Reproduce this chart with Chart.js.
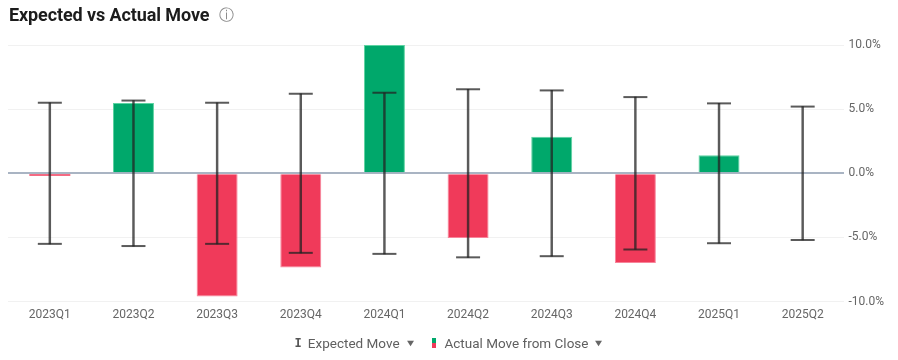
<!DOCTYPE html>
<html>
<head>
<meta charset="utf-8">
<script src="https://cdn.jsdelivr.net/npm/chart.js@4/dist/chart.umd.min.js"></script>
<style>
  html, body { margin: 0; padding: 0; background: #fff; }
  body { width: 898px; height: 360px; position: relative; overflow: hidden; font-family: Roboto, "Noto Sans", sans-serif; }
  #title { position: absolute; left: 9px; top: 4px; font-size: 18px; font-weight: 700; color: #1c1c1c; letter-spacing: -0.1px; white-space: nowrap; }
  #title .info { display: inline-block; margin-left: 10px; font-size: 15px; font-weight: 400; color: #8a8a8a; vertical-align: 1px; }
  #wrap { position: absolute; left: 0; top: 0; width: 898px; height: 360px; }
  #legend { position: absolute; left: 0; right: 0; top: 335px; display: flex; justify-content: center; align-items: center; font-size: 13.5px; color: #5f5f5f; }
  .item { display: flex; align-items: center; margin: 0 9px; }
  .tri { font-size: 9px; margin-left: 6px; color: #666; transform: scaleX(1.3); }
  .ibeam { font-family: "DejaVu Sans Mono", monospace; font-size: 12px; color: #555; margin-right: 6px; font-weight: 700; }
  .sw { width: 4px; height: 10px; margin-right: 8px; background: linear-gradient(#00a86b 50%, #f03a5a 50%); }
</style>
</head>
<body>
<div id="wrap"><canvas id="c" width="898" height="360"></canvas></div>
<div id="title">Expected vs Actual Move<span class="info">ⓘ</span></div>
<div id="legend">
  <div class="item"><span class="ibeam">I</span>Expected Move<span class="tri">▼</span></div>
  <div class="item"><span class="sw"></span>Actual Move from Close<span class="tri">▼</span></div>
</div>
<script>
const quarters = ['2023Q1','2023Q2','2023Q3','2023Q4','2024Q1','2024Q2','2024Q3','2024Q4','2025Q1','2025Q2'];
const expectedMove = [5.5, 5.67, 5.5, 6.2, 6.28, 6.55, 6.46, 5.94, 5.45, 5.2];
const actualMove = [-0.2, 5.47, -9.6, -7.35, 10.0, -5.05, 2.85, -6.99, 1.4, null];
const yTicks = [-10, -5, 0, 5, 10];

const GREEN = '#00a86b', RED = '#f03a5a';
const GREEN_B = '#5dd3a2', RED_B = '#f7849a';
const WHISKER = 'rgba(35,35,35,0.75)';

const ctx = document.getElementById('c').getContext('2d');
new Chart(ctx, {
  data: {
    labels: quarters,
    datasets: [
      {
        type: 'line',
        label: 'Expected high',
        data: expectedMove.map(v => v),
        showLine: false,
        pointStyle: 'line',
        pointRadius: 12,
        pointHoverRadius: 12,
        pointBorderWidth: 2,
        pointBorderColor: WHISKER,
        borderColor: WHISKER,
        clip: false,
        order: 0
      },
      {
        type: 'line',
        label: 'Expected low',
        data: expectedMove.map(v => -v),
        showLine: false,
        pointStyle: 'line',
        pointRadius: 12,
        pointHoverRadius: 12,
        pointBorderWidth: 2,
        pointBorderColor: WHISKER,
        borderColor: WHISKER,
        clip: false,
        order: 0
      },
      {
        type: 'bar',
        label: 'Expected Move',
        data: expectedMove.map(v => [-v, v]),
        backgroundColor: WHISKER,
        borderWidth: 0,
        barThickness: 1.8,
        grouped: false,
        order: 0
      },
      {
        type: 'bar',
        label: 'Actual Move from Close',
        data: actualMove,
        backgroundColor: actualMove.map(v => (v != null && v >= 0) ? GREEN : RED),
        borderColor: actualMove.map(v => (v != null && v >= 0) ? GREEN_B : RED_B),
        borderWidth: actualMove.map(v => (v != null && Math.abs(v) < 0.5) ? 0 : 1),
        borderSkipped: 'start',
        barPercentage: 0.49,
        categoryPercentage: 1.0,
        grouped: false,
        order: 1
      }
    ]
  },
  options: {
    responsive: false,
    animation: false,
    layout: { autoPadding: false, padding: { left: 8, right: 10, top: 45, bottom: 32 } },
    plugins: {
      legend: { display: false },
      tooltip: { enabled: false },
      title: { display: false }
    },
    scales: {
      x: {
        offset: true,
        grid: { display: false, drawTicks: false },
        border: { display: false },
        ticks: { color: '#666', font: { family: 'Roboto', size: 12 }, padding: 6, maxRotation: 0 },
        afterFit: (axis) => { axis.paddingLeft = 0; axis.paddingRight = 0; }
      },
      y: {
        position: 'right',
        min: -10, max: 10,
        afterBuildTicks: (axis) => { axis.ticks = yTicks.map(v => ({ value: v })); },
        grid: {
          drawTicks: false,
          color: (c) => c.tick && c.tick.value === 0 ? '#a9b4c3' : '#f1f1f1',
          lineWidth: (c) => c.tick && c.tick.value === 0 ? 2 : 1
        },
        border: { display: false },
        ticks: {
          color: '#666',
          font: { family: 'Roboto', size: 12 },
          padding: 4,
          callback: (v) => v.toFixed(1) + '%'
        }
      }
    }
  }
});
</script>
</body>
</html>
